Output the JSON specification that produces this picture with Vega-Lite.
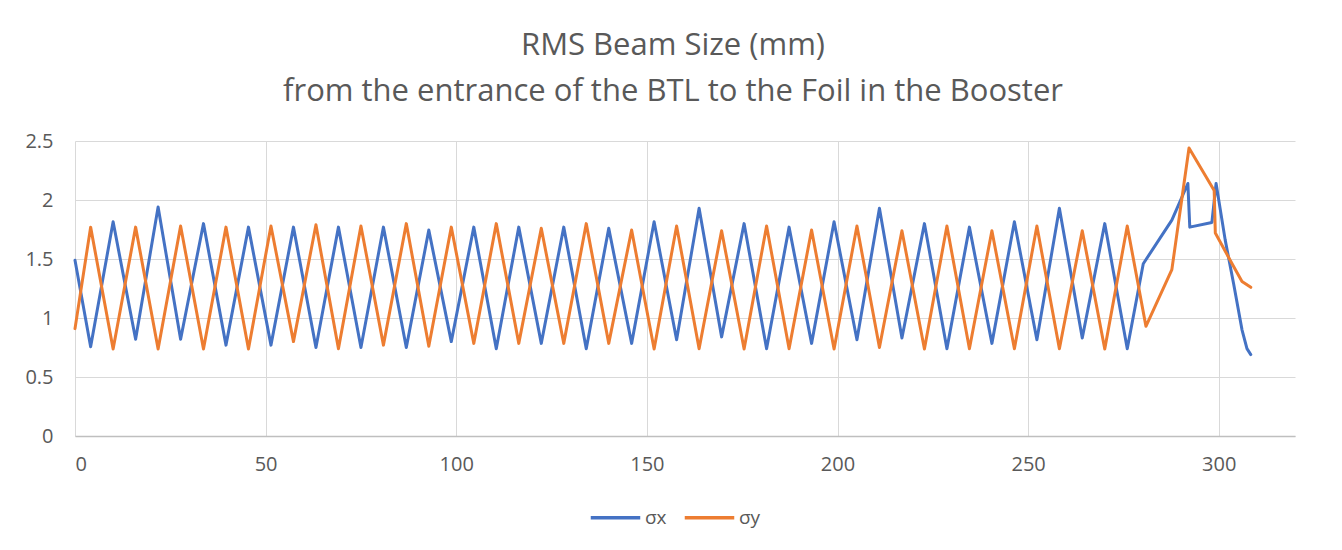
{
  "$schema": "https://vega.github.io/schema/vega-lite/v6.json",
  "autosize": "none",
  "width": 1220,
  "height": 295,
  "padding": {"left": 75, "top": 141, "right": 47, "bottom": 114},
  "background": "white",
  "title": {
    "text": ["RMS Beam Size (mm)", "from the entrance of the BTL to the Foil in the Booster"],
    "font": "Open Sans",
    "fontSize": 31,
    "fontWeight": "normal",
    "color": "#595959",
    "lineHeight": 46,
    "anchor": "middle",
    "dx": -12,
    "offset": 23
  },
  "data": {
    "values": [
      {"x": 0, "v": 1.49, "s": "σx"},
      {"x": 4.1, "v": 0.757, "s": "σx"},
      {"x": 10.0, "v": 1.815, "s": "σx"},
      {"x": 15.9, "v": 0.82, "s": "σx"},
      {"x": 21.8, "v": 1.94, "s": "σx"},
      {"x": 27.7, "v": 0.82, "s": "σx"},
      {"x": 33.7, "v": 1.80, "s": "σx"},
      {"x": 39.6, "v": 0.77, "s": "σx"},
      {"x": 45.5, "v": 1.77, "s": "σx"},
      {"x": 51.4, "v": 0.77, "s": "σx"},
      {"x": 57.3, "v": 1.77, "s": "σx"},
      {"x": 63.2, "v": 0.75, "s": "σx"},
      {"x": 69.1, "v": 1.77, "s": "σx"},
      {"x": 75.0, "v": 0.75, "s": "σx"},
      {"x": 80.9, "v": 1.77, "s": "σx"},
      {"x": 86.9, "v": 0.75, "s": "σx"},
      {"x": 92.8, "v": 1.745, "s": "σx"},
      {"x": 98.7, "v": 0.80, "s": "σx"},
      {"x": 104.6, "v": 1.77, "s": "σx"},
      {"x": 110.5, "v": 0.74, "s": "σx"},
      {"x": 116.4, "v": 1.77, "s": "σx"},
      {"x": 122.3, "v": 0.785, "s": "σx"},
      {"x": 128.2, "v": 1.77, "s": "σx"},
      {"x": 134.1, "v": 0.74, "s": "σx"},
      {"x": 140.0, "v": 1.76, "s": "σx"},
      {"x": 146.0, "v": 0.785, "s": "σx"},
      {"x": 151.9, "v": 1.815, "s": "σx"},
      {"x": 157.8, "v": 0.815, "s": "σx"},
      {"x": 163.7, "v": 1.93, "s": "σx"},
      {"x": 169.6, "v": 0.84, "s": "σx"},
      {"x": 175.5, "v": 1.80, "s": "σx"},
      {"x": 181.4, "v": 0.74, "s": "σx"},
      {"x": 187.3, "v": 1.77, "s": "σx"},
      {"x": 193.2, "v": 0.785, "s": "σx"},
      {"x": 199.1, "v": 1.815, "s": "σx"},
      {"x": 205.1, "v": 0.815, "s": "σx"},
      {"x": 211.0, "v": 1.93, "s": "σx"},
      {"x": 216.9, "v": 0.83, "s": "σx"},
      {"x": 222.8, "v": 1.80, "s": "σx"},
      {"x": 228.7, "v": 0.74, "s": "σx"},
      {"x": 234.6, "v": 1.77, "s": "σx"},
      {"x": 240.5, "v": 0.785, "s": "σx"},
      {"x": 246.4, "v": 1.815, "s": "σx"},
      {"x": 252.3, "v": 0.815, "s": "σx"},
      {"x": 258.2, "v": 1.93, "s": "σx"},
      {"x": 264.2, "v": 0.83, "s": "σx"},
      {"x": 270.1, "v": 1.80, "s": "σx"},
      {"x": 276.0, "v": 0.74, "s": "σx"},
      {"x": 280.2, "v": 1.46, "s": "σx"},
      {"x": 287.7, "v": 1.83, "s": "σx"},
      {"x": 291.9, "v": 2.14, "s": "σx"},
      {"x": 292.4, "v": 1.77, "s": "σx"},
      {"x": 298.2, "v": 1.81, "s": "σx"},
      {"x": 299.3, "v": 2.14, "s": "σx"},
      {"x": 301.7, "v": 1.66, "s": "σx"},
      {"x": 303.9, "v": 1.29, "s": "σx"},
      {"x": 306.1, "v": 0.90, "s": "σx"},
      {"x": 307.4, "v": 0.74, "s": "σx"},
      {"x": 308.4, "v": 0.69, "s": "σx"},
      {"x": 0, "v": 0.91, "s": "σy"},
      {"x": 4.1, "v": 1.77, "s": "σy"},
      {"x": 10.0, "v": 0.737, "s": "σy"},
      {"x": 15.9, "v": 1.77, "s": "σy"},
      {"x": 21.8, "v": 0.737, "s": "σy"},
      {"x": 27.7, "v": 1.78, "s": "σy"},
      {"x": 33.7, "v": 0.737, "s": "σy"},
      {"x": 39.6, "v": 1.77, "s": "σy"},
      {"x": 45.5, "v": 0.737, "s": "σy"},
      {"x": 51.4, "v": 1.78, "s": "σy"},
      {"x": 57.3, "v": 0.80, "s": "σy"},
      {"x": 63.2, "v": 1.79, "s": "σy"},
      {"x": 69.1, "v": 0.74, "s": "σy"},
      {"x": 75.0, "v": 1.78, "s": "σy"},
      {"x": 80.9, "v": 0.77, "s": "σy"},
      {"x": 86.9, "v": 1.80, "s": "σy"},
      {"x": 92.8, "v": 0.76, "s": "σy"},
      {"x": 98.7, "v": 1.77, "s": "σy"},
      {"x": 104.6, "v": 0.785, "s": "σy"},
      {"x": 110.5, "v": 1.80, "s": "σy"},
      {"x": 116.4, "v": 0.785, "s": "σy"},
      {"x": 122.3, "v": 1.76, "s": "σy"},
      {"x": 128.2, "v": 0.785, "s": "σy"},
      {"x": 134.1, "v": 1.80, "s": "σy"},
      {"x": 140.0, "v": 0.785, "s": "σy"},
      {"x": 146.0, "v": 1.745, "s": "σy"},
      {"x": 151.9, "v": 0.737, "s": "σy"},
      {"x": 157.8, "v": 1.78, "s": "σy"},
      {"x": 163.7, "v": 0.74, "s": "σy"},
      {"x": 169.6, "v": 1.74, "s": "σy"},
      {"x": 175.5, "v": 0.737, "s": "σy"},
      {"x": 181.4, "v": 1.78, "s": "σy"},
      {"x": 187.3, "v": 0.74, "s": "σy"},
      {"x": 193.2, "v": 1.745, "s": "σy"},
      {"x": 199.1, "v": 0.737, "s": "σy"},
      {"x": 205.1, "v": 1.78, "s": "σy"},
      {"x": 211.0, "v": 0.75, "s": "σy"},
      {"x": 216.9, "v": 1.74, "s": "σy"},
      {"x": 222.8, "v": 0.737, "s": "σy"},
      {"x": 228.7, "v": 1.78, "s": "σy"},
      {"x": 234.6, "v": 0.74, "s": "σy"},
      {"x": 240.5, "v": 1.74, "s": "σy"},
      {"x": 246.4, "v": 0.74, "s": "σy"},
      {"x": 252.3, "v": 1.78, "s": "σy"},
      {"x": 258.2, "v": 0.74, "s": "σy"},
      {"x": 264.2, "v": 1.74, "s": "σy"},
      {"x": 270.1, "v": 0.737, "s": "σy"},
      {"x": 276.0, "v": 1.78, "s": "σy"},
      {"x": 280.9, "v": 0.93, "s": "σy"},
      {"x": 287.7, "v": 1.41, "s": "σy"},
      {"x": 292.2, "v": 2.44, "s": "σy"},
      {"x": 298.8, "v": 2.08, "s": "σy"},
      {"x": 299.1, "v": 1.72, "s": "σy"},
      {"x": 303.5, "v": 1.46, "s": "σy"},
      {"x": 306.1, "v": 1.31, "s": "σy"},
      {"x": 308.4, "v": 1.26, "s": "σy"}
    ]
  },
  "mark": {"type": "line", "strokeWidth": 3, "strokeJoin": "round", "strokeCap": "round"},
  "encoding": {
    "x": {
      "field": "x", "type": "quantitative",
      "scale": {"domain": [0, 320], "nice": false, "zero": false},
      "axis": {
        "title": null, "values": [0, 50, 100, 150, 200, 250, 300],
        "grid": true, "gridColor": "#D9D9D9", "gridWidth": 1,
        "domain": true, "domainColor": "#BFBFBF", "domainWidth": 1.5,
        "ticks": false, "labelPadding": 18, "labelFontSize": 20,
        "labelFont": "Open Sans", "labelColor": "#595959"
      }
    },
    "y": {
      "field": "v", "type": "quantitative",
      "scale": {"domain": [0, 2.5], "nice": false},
      "axis": {
        "title": null, "values": [0, 0.5, 1, 1.5, 2, 2.5], "format": "~g",
        "grid": true, "gridColor": "#D9D9D9", "gridWidth": 1,
        "domain": false, "ticks": false, "labelPadding": 22,
        "labelFontSize": 20, "labelFont": "Open Sans", "labelColor": "#595959"
      }
    },
    "color": {
      "field": "s", "type": "nominal",
      "scale": {"domain": ["σx", "σy"], "range": ["#4472C4", "#ED7D31"]},
      "legend": {
        "title": null, "orient": "none", "direction": "horizontal",
        "legendX": 514, "legendY": 350,
        "symbolType": "stroke", "symbolStrokeWidth": 3.5, "symbolSize": 2450,
        "labelFontSize": 19, "labelFont": "Open Sans", "labelColor": "#595959",
        "columnPadding": 10, "labelOffset": 3
      }
    }
  },
  "config": {"view": {"stroke": null}}
}
